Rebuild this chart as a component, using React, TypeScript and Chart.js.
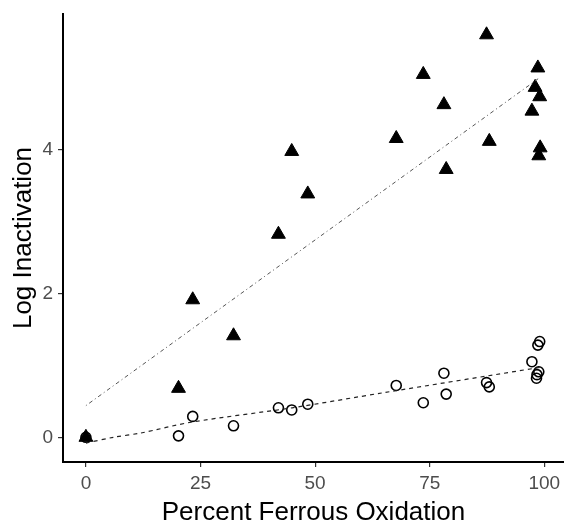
import React, { useEffect, useRef } from "react";
import { Chart, registerables } from "chart.js";

Chart.register(...registerables);

// ---- data ----
const triX = [0, 20.2, 23.3, 32.2, 42.0, 44.9, 48.4, 67.7, 73.6, 78.1, 78.6, 87.4, 88.0, 97.3, 98.0, 98.6, 98.8, 99.0, 99.1];
const triY = [0, 0.68, 1.91, 1.41, 2.82, 3.97, 3.38, 4.15, 5.04, 4.62, 3.72, 5.59, 4.11, 4.53, 4.86, 5.13, 3.91, 4.73, 4.02];

const circX = [0, 20.2, 23.3, 32.2, 42.0, 44.9, 48.4, 67.7, 73.6, 78.1, 78.6, 87.4, 88.0, 97.3, 98.3, 98.4, 98.6, 98.8, 99.0];
const circY = [0, 0.02, 0.29, 0.16, 0.41, 0.38, 0.46, 0.72, 0.48, 0.89, 0.60, 0.76, 0.70, 1.05, 0.82, 0.87, 1.28, 0.91, 1.33];

const triFitX = [0, 99.1];
const triFitY = [0.44, 5.0];

const circFitX = [0, 6, 12, 23, 45, 65, 99.0];
const circFitY = [-0.08, 0.0, 0.06, 0.21, 0.41, 0.62, 0.97];

const xTicks = [0, 25, 50, 75, 100];
const yTicks = [0, 2, 4];

const xTitle = "Percent Ferrous Oxidation";
const yTitle = "Log Inactivation";

const FONT = "'Liberation Sans', Arial, sans-serif";

const pts = (xs: number[], ys: number[]) => xs.map((x, i) => ({ x, y: ys[i] }));

export default function App() {
  const ref = useRef<HTMLCanvasElement | null>(null);

  useEffect(() => {
    if (!ref.current) return;
    const chart = new Chart(ref.current, {
      type: "scatter",
      data: {
        datasets: [
          {
            label: "fit-tri",
            data: pts(triFitX, triFitY),
            showLine: true,
            pointRadius: 0,
            borderColor: "#555555",
            borderWidth: 1,
            borderDash: [1, 3, 4, 3],
            order: 0,
          },
          {
            label: "fit-circ",
            data: pts(circFitX, circFitY),
            showLine: true,
            pointRadius: 0,
            borderColor: "#222222",
            borderWidth: 1.2,
            borderDash: [4, 4],
            tension: 0.3,
            order: 0,
          },
          {
            label: "triangles",
            data: pts(triX, triY),
            pointStyle: "triangle",
            pointRadius: 8,
            backgroundColor: "#000000",
            borderColor: "#000000",
            borderWidth: 1,
            order: 1,
          },
          {
            label: "circles",
            data: pts(circX, circY),
            pointStyle: "circle",
            pointRadius: 5,
            backgroundColor: "rgba(255,255,255,0)",
            borderColor: "#000000",
            borderWidth: 1.6,
            order: 2,
          },
        ],
      },
      options: {
        responsive: false,
        animation: false,
        layout: { autoPadding: false, padding: { top: 14, left: 0, right: 0, bottom: 0 } },
        plugins: {
          legend: { display: false },
          tooltip: { enabled: false },
        },
        scales: {
          x: {
            type: "linear",
            min: -5.0,
            max: 104.3,
            afterBuildTicks: (s: any) => {
              s.ticks = xTicks.map((v) => ({ value: v }));
            },
            afterFit: (s: any) => {
              s.height = 60;
              s.paddingLeft = 0;
              s.paddingRight = 0;
            },
            grid: {
              drawOnChartArea: false,
              drawTicks: true,
              tickLength: 5,
              color: "#333333",
              lineWidth: 1.2,
            },
            border: { display: true, color: "#000000", width: 2 },
            ticks: {
              color: "#4d4d4d",
              font: { size: 19, family: FONT },
              padding: 5,
              maxRotation: 0,
              autoSkip: false,
            },
            title: {
              display: true,
              text: xTitle,
              color: "#000000",
              font: { size: 26, family: FONT },
              padding: { top: 0, bottom: -6 },
            },
          },
          y: {
            type: "linear",
            min: -0.343,
            max: 5.879,
            afterBuildTicks: (s: any) => {
              s.ticks = yTicks.map((v) => ({ value: v }));
            },
            afterFit: (s: any) => {
              s.width = 63;
              s.paddingTop = 0;
              s.paddingBottom = 0;
            },
            grid: {
              drawOnChartArea: false,
              drawTicks: true,
              tickLength: 5,
              color: "#333333",
              lineWidth: 1.2,
            },
            border: { display: true, color: "#000000", width: 2 },
            ticks: {
              color: "#4d4d4d",
              font: { size: 19, family: FONT },
              padding: 5,
              autoSkip: false,
            },
            title: {
              display: true,
              text: yTitle,
              color: "#000000",
              font: { size: 26, family: FONT },
              padding: { top: 8, bottom: 0 },
            },
          },
        },
      },
    } as any);
    return () => chart.destroy();
  }, []);

  return (
    <div style={{ position: "fixed", left: 0, top: 0, width: 564, height: 522, background: "#ffffff" }}>
      <canvas ref={ref} width={564} height={522} style={{ display: "block" }} />
    </div>
  );
}
